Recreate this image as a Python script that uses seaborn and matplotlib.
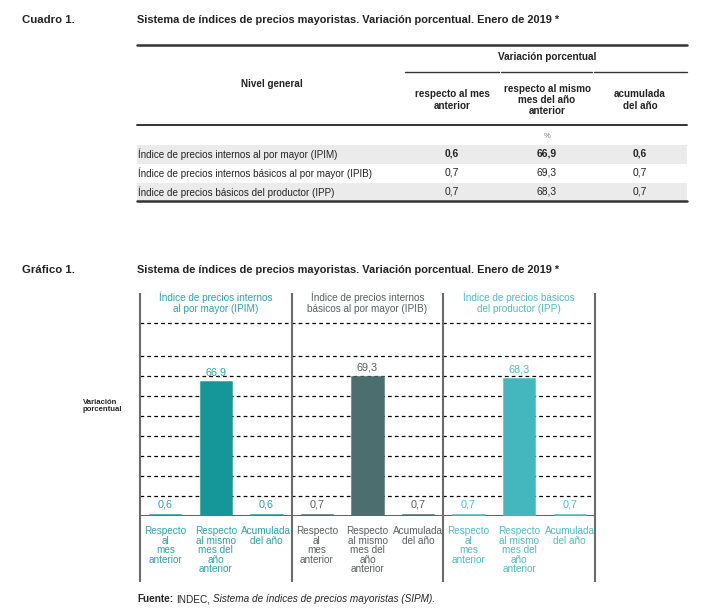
import pandas as pd
import matplotlib.pyplot as plt
import seaborn as sns
from matplotlib.lines import Line2D
from matplotlib.patches import Rectangle

# Data
indices = ['IPIM', 'IPIB', 'IPP']
nombres_tabla = ['Índice de precios internos al por mayor (IPIM)',
                 'Índice de precios internos básicos al por mayor (IPIB)',
                 'Índice de precios básicos del productor (IPP)']
titulos_panel = ['Índice de precios internos\nal por mayor (IPIM)',
                 'Índice de precios internos\nbásicos al por mayor (IPIB)',
                 'Índice de precios básicos\ndel productor (IPP)']
respecto_mes = [0.6, 0.7, 0.7]
respecto_anio = [66.9, 69.3, 68.3]
acumulada = [0.6, 0.7, 0.7]
etiquetas_cat = ['Respecto\nal\nmes\nanterior', 'Respecto\nal mismo\nmes del\naño\nanterior', 'Acumulada\ndel año']
cols_tabla = ['respecto al mes\nanterior', 'respecto al mismo\nmes del año\nanterior', 'acumulada\ndel año']

colores = {'IPIM': '#15979a', 'IPIB': '#4c6e6e', 'IPP': '#44b6bd'}
colores_txt = {'IPIM': '#2ba4a9', 'IPIB': '#5a5f60', 'IPP': '#4dbcc3'}

rows = []
for i, ind in enumerate(indices):
    for j, v in enumerate([respecto_mes[i], respecto_anio[i], acumulada[i]]):
        rows.append({'pos': f'{ind}_{j}', 'indice': ind, 'valor': v, 'etiqueta': etiquetas_cat[j]})
df = pd.DataFrame(rows)

sns.set_style('white')
plt.rcParams['font.family'] = ['Liberation Sans', 'DejaVu Sans']

W, H = 709, 611
fig = plt.figure(figsize=(W / 100, H / 100), dpi=100)


def fx(x):
    return x / W


def fy(y):
    return 1 - y / H


def ftext(x, y, s, **kw):
    return fig.text(fx(x), fy(y), s, **kw)


def fline(x0, x1, y, lw=1.0, color='#333333'):
    fig.add_artist(Line2D([fx(x0), fx(x1)], [fy(y), fy(y)], lw=lw, color=color, transform=fig.transFigure))


titulo = 'Sistema de índices de precios mayoristas. Variación porcentual. Enero de 2019 *'
oscuro = '#222222'

# ---- Cuadro 1 (table) ----
ftext(22, 20, 'Cuadro 1.', weight='bold', fontsize=8.2, va='center', color=oscuro)
ftext(137, 20, titulo, weight='bold', fontsize=7.9, va='center', color=oscuro)
fline(137, 687, 45, lw=1.8)
ftext(547, 57, 'Variación porcentual', weight='bold', fontsize=7.2, ha='center', va='center', color=oscuro)
for x0, x1 in [(405, 499), (501, 592), (594, 687)]:
    fline(x0, x1, 72, lw=1.0)
ftext(272, 84, 'Nivel general', weight='bold', fontsize=7.1, ha='center', va='center', color=oscuro)
col_x = [452, 547, 640]
for cx, c in zip(col_x, cols_tabla):
    ftext(cx, 100, c, weight='bold', fontsize=7.1, ha='center', va='center', linespacing=1.15, color=oscuro)
fline(137, 687, 125, lw=1.4)
ftext(547, 136, '%', fontsize=5.5, ha='center', va='center', color='#777777')

row_y = [154, 173, 192]
for k in [0, 2]:
    fig.add_artist(Rectangle((fx(137), fy(row_y[k] + 9.5)), fx(687) - fx(137), 19 / H,
                             transform=fig.transFigure, color='#ebebeb', lw=0, zorder=0))
for k, ind in enumerate(indices):
    ftext(138, row_y[k], nombres_tabla[k], fontsize=7.1, va='center', color=oscuro)
    for cx, v in zip(col_x, [respecto_mes[k], respecto_anio[k], acumulada[k]]):
        ftext(cx, row_y[k], f'{v:.1f}'.replace('.', ','), fontsize=7.4,
              weight='bold' if k == 0 else 'normal', ha='center', va='center', color=oscuro)
fline(137, 687, 201, lw=1.8)

# ---- Gráfico 1 ----
ftext(22, 270, 'Gráfico 1.', weight='bold', fontsize=8.2, va='center', color=oscuro)
ftext(137, 270, titulo, weight='bold', fontsize=7.9, va='center', color=oscuro)

base_y, top_y = 516, 293
ax = fig.add_axes([fx(140), fy(base_y), fx(595) - fx(140), (base_y - top_y) / H])
sns.barplot(data=df, x='pos', y='valor', hue='indice', palette=colores, dodge=False,
            width=0.6, legend=False, ax=ax, saturation=1, zorder=3)
for p in ax.patches:
    p.set_edgecolor(p.get_facecolor())
    p.set_linewidth(1.8)
ax.set_ylim(0, (base_y - top_y) / 2)
ax.set_xlim(-0.5, 8.5)
for s in ax.spines.values():
    s.set_visible(False)
ax.set_xticks([])
ax.set_yticks([])
ax.set_xlabel('')
ax.set_ylabel('')

for g in [10, 20, 30, 40, 50, 60, 70, 80, 96.5]:
    ax.axhline(g, color='black', lw=0.9, ls=(0, (3, 2.5)), zorder=1)
ax.axhline(0, color='#444444', lw=1.2, zorder=2)
ax.vlines([-0.5, 2.5, 5.5, 8.5], -33, (base_y - top_y) / 2, color='#6b6b6b', lw=1.5,
          clip_on=False, zorder=5)

for i, r in df.iterrows():
    col = colores_txt[r['indice']]
    ax.text(i, r['valor'] + 2.5, f"{r['valor']:.1f}".replace('.', ','), ha='center', va='bottom',
            fontsize=7.8, color=col)
    ax.text(i, -5, r['etiqueta'], ha='center', va='top', fontsize=7.2, color=col,
            linespacing=0.95)

for k, ind in enumerate(indices):
    ax.text(3 * k + 1, 106.5, titulos_panel[k], ha='center', va='center', fontsize=7.2,
            color=colores_txt[ind], linespacing=1.15)

ftext(83, 406, 'Variación\nporcentual', weight='bold', fontsize=5.6, va='center', linespacing=1.0)

# Fuente line: bold word, then the rest placed right after it
r = fig.canvas.get_renderer()
t1 = ftext(137, 599, 'Fuente:', weight='bold', fontsize=7.2, va='center')
x1 = t1.get_window_extent(r).x1
t2 = fig.text(x1 / fig.bbox.width + fx(3), fy(599), 'INDEC,', fontsize=7.2, va='center')
x2 = t2.get_window_extent(r).x1
fig.text(x2 / fig.bbox.width + fx(3), fy(599), 'Sistema de índices de precios mayoristas (SIPM).',
         fontsize=7.2, va='center', style='italic')

fig.savefig('out.png', dpi=100)
plt.close()
